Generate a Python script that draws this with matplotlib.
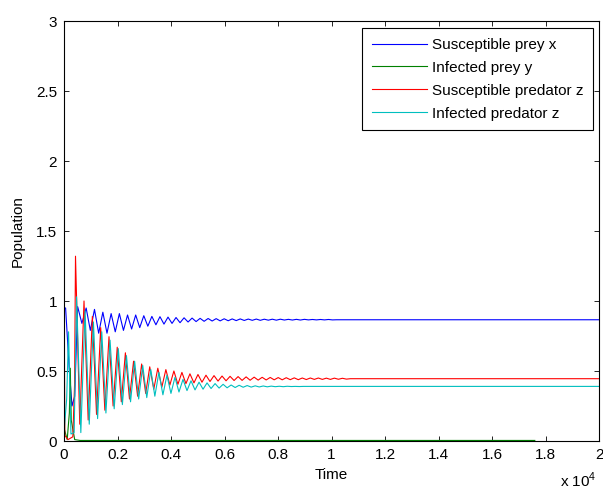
import matplotlib
matplotlib.use("Agg")
import matplotlib.pyplot as plt
import numpy as np

plt.rcParams["font.family"] = ["Liberation Sans", "DejaVu Sans"]
plt.rcParams["mathtext.fontset"] = "custom"
plt.rcParams["mathtext.rm"] = "Liberation Sans"

# times of the susceptible-predator peaks in the damped oscillation
cycle_t = [430, 748, 1060, 1372, 1682, 1990, 2295, 2600, 2903, 3205, 3507, 3808,
           4108, 4408, 4708, 5008, 5308, 5608, 5908, 6208, 6508, 6808, 7108, 7408,
           7708, 8008, 8308, 8608, 8908, 9208, 9508, 9808, 10108, 10408]

# susceptible prey x
x_start_t = [0, 60, 200, 300, 400]
x_start_v = [0.95, 0.95, 0.50, 0.25, 0.32]
x_lag = 80
x_peak = [0.96, 0.95, 0.94, 0.92, 0.91, 0.91, 0.90, 0.90, 0.895, 0.89, 0.888, 0.885,
          0.882, 0.88, 0.878, 0.876, 0.875, 0.874, 0.873, 0.872, 0.872, 0.871, 0.871,
          0.870, 0.870, 0.870, 0.869, 0.869, 0.869, 0.868, 0.868, 0.868]
x_trough = [0.84, 0.79, 0.77, 0.77, 0.78, 0.79, 0.80, 0.81, 0.82, 0.83, 0.835, 0.84,
            0.845, 0.85, 0.853, 0.855, 0.857, 0.858, 0.859, 0.86, 0.861, 0.862, 0.862,
            0.863, 0.863, 0.864, 0.864, 0.864, 0.865, 0.865, 0.865, 0.865]
x_steady = 0.866

# infected prey y
y_t = [0, 20, 120, 200, 235, 270, 400, 600, 17600]
y_v = [1.82, 0.08, 0.01, 0.20, 0.52, 0.15, 0.01, 0.004, 0.004]

# susceptible predator z
z_start_t = [0, 30, 150, 330, 395]
z_start_v = [1.30, 0.04, 0.01, 0.03, 0.40]
z_lag = 0
z_peak = [1.32, 1.00, 0.89, 0.81, 0.745, 0.67, 0.63, 0.57, 0.55, 0.53, 0.52, 0.51,
          0.50, 0.49, 0.48, 0.475, 0.47, 0.467, 0.464, 0.462, 0.46, 0.458, 0.456,
          0.455, 0.454, 0.453, 0.452, 0.451, 0.45, 0.45, 0.45, 0.449, 0.449, 0.448]
z_trough = [0.12, 0.15, 0.19, 0.22, 0.25, 0.28, 0.30, 0.32, 0.34, 0.37, 0.385, 0.40,
            0.405, 0.41, 0.415, 0.42, 0.425, 0.428, 0.43, 0.432, 0.433, 0.434, 0.435,
            0.436, 0.437, 0.437, 0.438, 0.438, 0.439, 0.44, 0.44, 0.44, 0.441, 0.442]
z_steady = 0.445

# infected predator
w_start_t = [0, 15, 100, 170, 260, 380]
w_start_v = [3.0, 0.10, 0.30, 0.78, 0.05, 0.06]
w_lag = 40
w_peak = [1.03, 0.93, 0.85, 0.78, 0.72, 0.66, 0.61, 0.57, 0.54, 0.51, 0.49, 0.47,
          0.455, 0.44, 0.43, 0.42, 0.415, 0.41, 0.405, 0.40, 0.398, 0.396, 0.394,
          0.393, 0.392, 0.391, 0.391, 0.39, 0.39]
w_trough = [0.06, 0.12, 0.16, 0.20, 0.23, 0.26, 0.28, 0.30, 0.31, 0.32, 0.33, 0.34,
            0.35, 0.36, 0.365, 0.37, 0.375, 0.378, 0.38, 0.382, 0.384, 0.385, 0.386,
            0.387, 0.388, 0.388, 0.389, 0.389, 0.39]
w_steady = 0.39

t_end = 20000
labels = ["Susceptible prey x", "Infected prey y", "Susceptible predator z", "Infected predator z"]
colors = ["#0000ff", "#008000", "#ff0000", "#00bfbf"]


def build_series(start_t, start_v, peaks, troughs, lag, steady):
    t, v = list(start_t), list(start_v)
    for k in range(len(peaks)):
        tp = cycle_t[k] + lag
        tn = cycle_t[k + 1] + lag if k + 1 < len(cycle_t) else tp + 300
        t += [tp, (tp + tn) / 2]
        v += [peaks[k], troughs[k]]
    t += [t[-1] + 150, t_end]
    v += [steady, steady]
    return np.array(t, float), np.array(v, float)


xt, xv = build_series(x_start_t, x_start_v, x_peak, x_trough, x_lag, x_steady)
zt, zv = build_series(z_start_t, z_start_v, z_peak, z_trough, z_lag, z_steady)
wt, wv = build_series(w_start_t, w_start_v, w_peak, w_trough, w_lag, w_steady)

fig = plt.figure(figsize=(6.03, 4.9), dpi=100)
ax = fig.add_axes([64 / 603, 49 / 490, 535 / 603, 420 / 490])

lw = 0.8
ax.plot(xt, xv, color=colors[0], lw=lw, label=labels[0])
ax.plot(y_t, y_v, color=colors[1], lw=lw, label=labels[1])
ax.plot(zt, zv, color=colors[2], lw=lw, label=labels[2])
ax.plot(wt, wv, color=colors[3], lw=lw, label=labels[3])

fs = 11
ax.set_xlim(0, t_end)
ax.set_ylim(0, 3)
xticks = np.arange(0, t_end + 1, 2000)
ax.set_xticks(xticks)
ax.set_xticklabels([f"{v / 1e4:g}" for v in xticks])
yticks = np.arange(0, 3.01, 0.5)
ax.set_yticks(yticks)
ax.set_yticklabels([f"{v:g}" for v in yticks])
ax.tick_params(direction="in", top=True, right=True, length=3.8, width=0.6,
               labelsize=fs, pad=5)
for s in ax.spines.values():
    s.set_linewidth(0.8)

ax.set_xlabel("Time", fontsize=fs, labelpad=4)
ax.set_ylabel("Population", fontsize=fs, labelpad=8)
fig.text(597 / 603, 3 / 490, r"x 10$^{4}$", ha="right", va="baseline", fontsize=fs)

leg = ax.legend(loc="upper right", bbox_to_anchor=(593 / 603, 1 - 28 / 490),
                bbox_transform=fig.transFigure, borderaxespad=0, fontsize=fs,
                frameon=True, fancybox=False, framealpha=1, edgecolor="black",
                handlelength=3.6, handletextpad=0.3, labelspacing=0.58, borderpad=0.65)
leg.get_frame().set_linewidth(0.8)

fig.savefig("out.png", dpi=100)
